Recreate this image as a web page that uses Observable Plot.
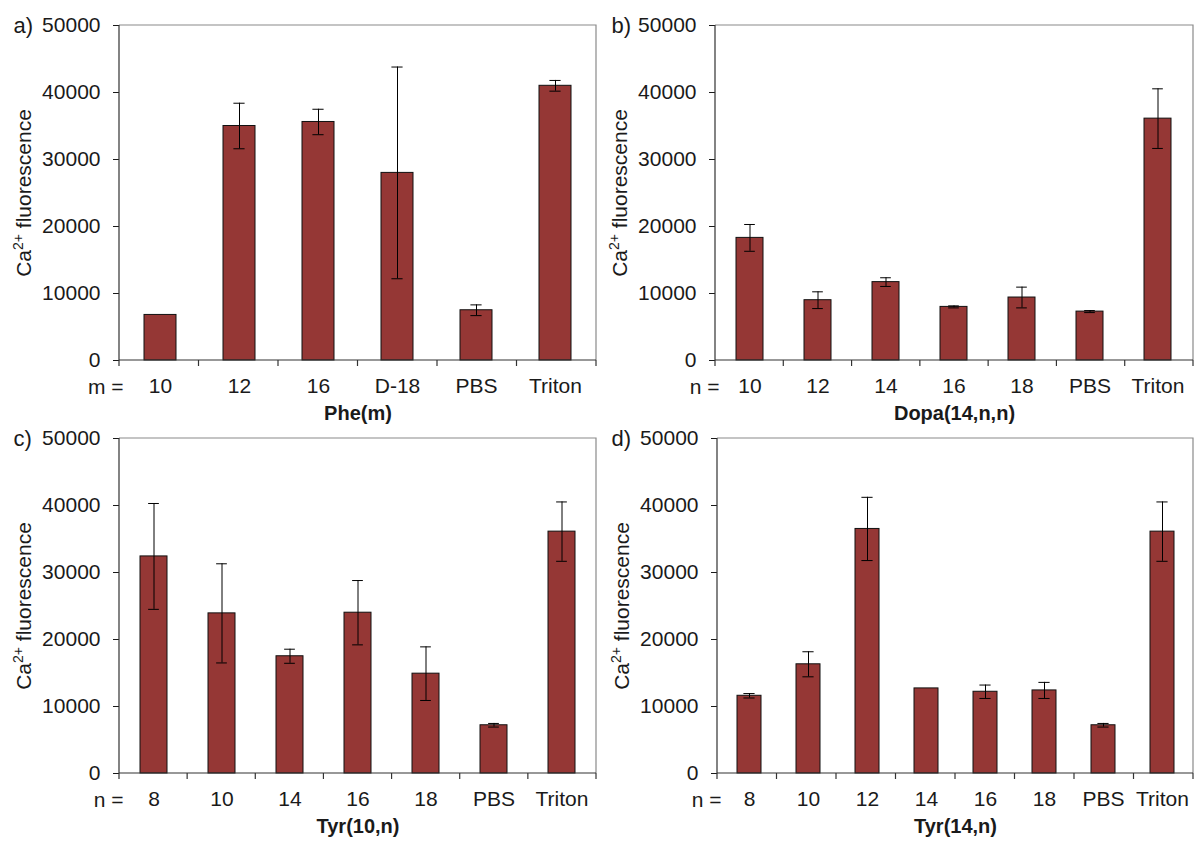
<!DOCTYPE html>
<html>
<head>
<meta charset="utf-8">
<script src="https://cdn.jsdelivr.net/npm/d3@7"></script>
<script src="https://cdn.jsdelivr.net/npm/@observablehq/plot@0.6"></script>
<style>
  html, body { margin: 0; padding: 0; background: #fff; }
  #wrap { position: relative; width: 1199px; height: 843px; overflow: hidden; background: #fff; }
  .panel { position: absolute; }
  .panel svg { background: transparent !important; font-size: 21px !important; font-family: 'Liberation Sans', Arial, sans-serif !important; }
</style>
</head>
<body>
<div id="wrap"></div>
<script>
// ---- Data ----
const catsA = ["10", "12", "16", "D-18", "PBS", "Triton"];
const valsA = [6800, 35000, 35600, 28000, 7500, 41000];
const errA  = [0, 3400, 1900, 15800, 800, 800];

const catsB = ["10", "12", "14", "16", "18", "PBS", "Triton"];
const valsB = [18300, 9000, 11700, 8000, 9400, 7300, 36100];
const errB  = [2000, 1250, 650, 150, 1550, 150, 4450];

const catsC = ["8", "10", "14", "16", "18", "PBS", "Triton"];
const valsC = [32400, 23900, 17500, 24000, 14900, 7200, 36100];
const errC  = [7900, 7400, 1050, 4800, 4000, 270, 4430];

const catsD = ["8", "10", "12", "14", "16", "18", "PBS", "Triton"];
const valsD = [11600, 16300, 36500, 12700, 12200, 12400, 7200, 36100];
const errD  = [330, 1870, 4720, 0, 1000, 1200, 270, 4430];

const yTitle = "Ca2+ fluorescence";
const yTicks = [0, 10000, 20000, 30000, 40000, 50000];

const panels = [
  {letter: "a)", prefix: "m =", title: "Phe(m)",       cats: catsA, vals: valsA, errs: errA, left: 0,   top: 0,   width: 600, ml: 119, mr: 4, lx: 13},
  {letter: "b)", prefix: "n =", title: "Dopa(14,n,n)", cats: catsB, vals: valsB, errs: errB, left: 600, top: 0,   width: 599, ml: 115, mr: 6, lx: 11},
  {letter: "c)", prefix: "n =", title: "Tyr(10,n)",    cats: catsC, vals: valsC, errs: errC, left: 0,   top: 413, width: 600, ml: 119, mr: 4, lx: 13},
  {letter: "d)", prefix: "n =", title: "Tyr(14,n)",    cats: catsD, vals: valsD, errs: errD, left: 600, top: 413, width: 599, ml: 117, mr: 6, lx: 11}
];

const H = 420, MT = 25, MB = 60;
const FILL = "#953735";
const FONT = "'Liberation Sans', Arial, sans-serif";
const INK = "#1a1a1a";

// structural frame: gray plot-area border, dark axes, category boundary ticks
const structure = (n) => (index, scales, values, dims) => {
  const {width, height, marginLeft, marginRight, marginTop, marginBottom} = dims;
  const x0 = marginLeft, x1 = width - marginRight, yt = marginTop, yb = height - marginBottom;
  const g = d3.create("svg:g");
  g.append("path").attr("d", `M${x0},${yt}H${x1}V${yb}`)
    .attr("fill", "none").attr("stroke", "#8a8a8a").attr("stroke-width", 1.2);
  g.append("path").attr("d", `M${x0},${yt}V${yb}H${x1}`)
    .attr("fill", "none").attr("stroke", "#333").attr("stroke-width", 1.2);
  const step = (x1 - x0) / n;
  for (let i = 0; i <= n; i++) {
    const x = x0 + i * step;
    g.append("line").attr("x1", x).attr("x2", x).attr("y1", yb).attr("y2", yb + 6)
      .attr("stroke", "#333").attr("stroke-width", 1.2);
  }
  return g.node();
};

const wrap = document.getElementById("wrap");

for (const p of panels) {
  const data = p.cats.map((c, i) => ({cat: c, val: p.vals[i], err: p.errs[i]}));
  const withErr = data.filter(d => d.err > 0);
  const n = p.cats.length;
  const step = (p.width - p.ml - p.mr) / n;
  const bw = step * 0.4;
  const capInset = Math.max(0, (bw - 11) / 2);

  const svg = Plot.plot({
    width: p.width,
    height: H,
    marginLeft: p.ml,
    marginRight: p.mr,
    marginTop: MT,
    marginBottom: MB,
    style: {fontFamily: FONT, fontSize: "21px", color: INK, background: "transparent", overflow: "visible"},
    x: {domain: p.cats, paddingInner: 0.6, paddingOuter: 0.3, tickSize: 0, tickPadding: 18, label: null},
    y: {domain: [0, 50000], ticks: yTicks, tickSize: 6, tickPadding: 13, tickFormat: d => String(d), label: null},
    marks: [
      Plot.barY(data, {x: "cat", y: "val", fill: FILL, stroke: "#111", strokeWidth: 1}),
      Plot.ruleX(withErr, {x: "cat", y1: d => d.val - d.err, y2: d => d.val + d.err, stroke: "#000", strokeWidth: 1}),
      Plot.tickY(withErr, {x: "cat", y: d => d.val + d.err, stroke: "#000", strokeWidth: 1, insetLeft: capInset, insetRight: capInset}),
      Plot.tickY(withErr, {x: "cat", y: d => d.val - d.err, stroke: "#000", strokeWidth: 1, insetLeft: capInset, insetRight: capInset}),
      structure(n),
      Plot.text([p.letter], {frameAnchor: "top-left", textAnchor: "start", lineAnchor: "middle", dx: p.lx - p.ml, dy: 0, fontSize: 22, fill: INK}),
      Plot.text([p.prefix], {frameAnchor: "bottom-left", textAnchor: "end", lineAnchor: "middle", dx: 4, dy: 27, fontSize: 21, fill: INK}),
      Plot.text([p.title], {frameAnchor: "bottom", textAnchor: "middle", lineAnchor: "middle", dy: 53, fontWeight: "bold", fontSize: 20, fill: INK}),
      Plot.text([yTitle], {frameAnchor: "left", textAnchor: "middle", lineAnchor: "middle", rotate: -90, dx: -95, fontSize: 21, fill: INK})
    ]
  });

  // superscript charge in the y title
  d3.select(svg).selectAll("text").filter(function() { return this.textContent === yTitle; })
    .each(function() {
      const t = d3.select(this);
      t.text(null);
      t.append("tspan").text("Ca");
      t.append("tspan").attr("baseline-shift", "super").attr("font-size", "14px").text("2+");
      t.append("tspan").text(" fluorescence");
    });

  const div = document.createElement("div");
  div.className = "panel";
  div.style.left = p.left + "px";
  div.style.top = p.top + "px";
  div.appendChild(svg);
  wrap.appendChild(div);
}
</script>
</body>
</html>
